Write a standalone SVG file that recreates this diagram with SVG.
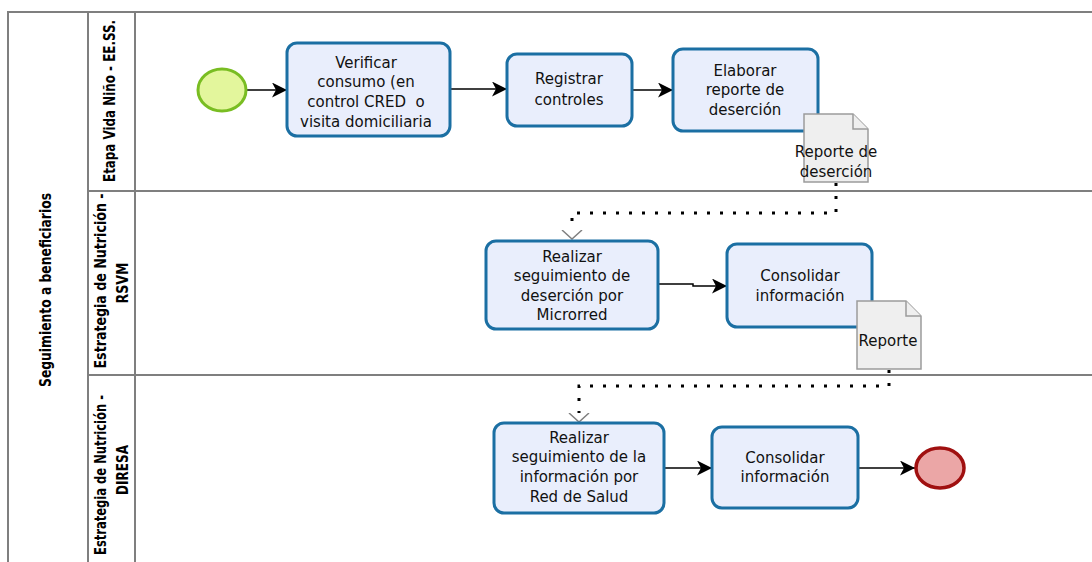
<svg xmlns="http://www.w3.org/2000/svg" width="1092" height="562" viewBox="0 0 1092 562">
  <defs>
    <style>
      .lane-line { stroke: #7f7f7f; stroke-width: 2; fill: none; }
      .head { font-family: 'Liberation Sans Narrow', 'DejaVu Sans Condensed', 'DejaVu Sans', sans-serif; font-weight: bold; font-stretch: condensed; font-size: 15px; fill: #000; text-anchor: middle; }
      .task rect { fill: #e9eefc; stroke: #1b6fa3; stroke-width: 3; }
      .label { font-family: 'DejaVu Sans', Verdana, sans-serif; font-size: 15px; fill: #111; text-anchor: middle; }
      .doc path { fill: #efefef; stroke: #9c9c9c; stroke-width: 1.5; }
      .start { fill: #e3f69c; stroke: #79bd22; stroke-width: 3; }
      .end { fill: #eba6a6; stroke: #a01010; stroke-width: 3.5; }
      .flow { fill: none; stroke: #000; stroke-width: 1.5; marker-end: url(#arrow); }
      .assoc { fill: none; stroke: #000; stroke-width: 3; stroke-dasharray: 3 10; marker-end: url(#openV); }
    </style>
    <marker id="arrow" viewBox="0 0 15 15" refX="15" refY="7.5" markerWidth="15" markerHeight="15" markerUnits="userSpaceOnUse" orient="auto">
      <path d="M0,0 L15,7.5 L0,15 L4,7.5 Z" fill="#000"/>
    </marker>
    <marker id="openV" viewBox="0 0 10 22" refX="0" refY="11" markerWidth="10" markerHeight="22" markerUnits="userSpaceOnUse" orient="auto">
      <path d="M0,1 L9,11 L0,21" fill="none" stroke="#808080" stroke-width="1.5"/>
    </marker>
  </defs>

  <rect width="1092" height="562" fill="#ffffff"/>

  <!-- Pool with three lanes -->
  <g id="pool">
    <path class="lane-line" d="M1100,12 H8 V570"/>
    <path class="lane-line" d="M88,12 V570"/>
    <path class="lane-line" d="M135,12 V570"/>
    <path class="lane-line" d="M88,191 H1100"/>
    <path class="lane-line" d="M88,375 H1100"/>
    <text class="head" x="51" y="290" transform="rotate(-90 51 290)" textLength="194" lengthAdjust="spacingAndGlyphs">Seguimiento a beneficiarios</text>
  </g>

  <g id="lane-ninio">
    <text class="head" x="115" y="101" transform="rotate(-90 115 101)" textLength="162" lengthAdjust="spacingAndGlyphs">Etapa Vida Niño - EE.SS.</text>
  </g>
  <g id="lane-rsvm">
    <text class="head" x="106" y="281" transform="rotate(-90 106 281)" textLength="175" lengthAdjust="spacingAndGlyphs">Estrategia de Nutrición -</text>
    <text class="head" x="128" y="283" transform="rotate(-90 128 283)" textLength="41" lengthAdjust="spacingAndGlyphs">RSVM</text>
  </g>
  <g id="lane-diresa">
    <text class="head" x="106" y="475" transform="rotate(-90 106 475)" textLength="160" lengthAdjust="spacingAndGlyphs">Estrategia de Nutrición -</text>
    <text class="head" x="128" y="470" transform="rotate(-90 128 470)" textLength="50" lengthAdjust="spacingAndGlyphs">DIRESA</text>
  </g>

  <!-- Sequence flows and data associations -->
  <g id="connectors">
    <path class="flow" d="M247,90 H287"/>
    <path class="flow" d="M450,89 H507"/>
    <path class="flow" d="M632,90 H673"/>
    <path class="flow" d="M658,284 H693 V286 H727"/>
    <path class="flow" d="M664,468 H712"/>
    <path class="flow" d="M858,468 H915"/>
    <path class="assoc" d="M836,183 V213 H572 V230"/>
    <path class="assoc" d="M889,370 V386 H579 V413"/>
  </g>

  <g id="start">
    <ellipse class="start" cx="222" cy="90" rx="24" ry="21"/>
  </g>

  <g id="task-verificar" class="task">
    <rect x="287" y="43" width="163" height="93" rx="10"/>
    <text class="label"><tspan x="366" y="68">Verificar</tspan><tspan x="366" y="87">consumo (en</tspan><tspan x="366" y="107" style="white-space: pre">control CRED  o</tspan><tspan x="366" y="127">visita domiciliaria</tspan></text>
  </g>

  <g id="task-registrar" class="task">
    <rect x="507" y="54" width="125" height="72" rx="10"/>
    <text class="label"><tspan x="569" y="84">Registrar</tspan><tspan x="569" y="105">controles</tspan></text>
  </g>

  <g id="task-elaborar" class="task">
    <rect x="673" y="49" width="145" height="82" rx="10"/>
    <text class="label"><tspan x="745" y="76">Elaborar</tspan><tspan x="745" y="95">reporte de</tspan><tspan x="745" y="115">deserción</tspan></text>
  </g>

  <g id="doc-reporte-desercion" class="doc">
    <path d="M804,114 H853 L868,129 V182 H804 Z"/>
    <path d="M853,114 V129 H868" fill="none"/>
    <text class="label"><tspan x="836" y="157">Reporte de</tspan><tspan x="836" y="177">deserción</tspan></text>
  </g>

  <g id="task-seguimiento-microrred" class="task">
    <rect x="486" y="241" width="172" height="88" rx="10"/>
    <text class="label"><tspan x="572" y="262">Realizar</tspan><tspan x="572" y="281">seguimiento de</tspan><tspan x="572" y="301">deserción por</tspan><tspan x="572" y="320">Microrred</tspan></text>
  </g>

  <g id="task-consolidar-rsvm" class="task">
    <rect x="727" y="244" width="145" height="83" rx="10"/>
    <text class="label"><tspan x="800" y="281">Consolidar</tspan><tspan x="800" y="301">información</tspan></text>
  </g>

  <g id="doc-reporte" class="doc">
    <path d="M857,301 H906 L921,316 V369 H857 Z"/>
    <path d="M906,301 V316 H921" fill="none"/>
    <text class="label" x="888" y="346">Reporte</text>
  </g>

  <g id="task-seguimiento-red" class="task">
    <rect x="494" y="423" width="170" height="90" rx="10"/>
    <text class="label"><tspan x="579" y="443">Realizar</tspan><tspan x="579" y="462">seguimiento de la</tspan><tspan x="579" y="482">información por</tspan><tspan x="579" y="502">Red de Salud</tspan></text>
  </g>

  <g id="task-consolidar-diresa" class="task">
    <rect x="712" y="427" width="146" height="81" rx="10"/>
    <text class="label"><tspan x="785" y="463">Consolidar</tspan><tspan x="785" y="482">información</tspan></text>
  </g>

  <g id="end">
    <ellipse class="end" cx="940" cy="468" rx="24" ry="20"/>
  </g>
</svg>
